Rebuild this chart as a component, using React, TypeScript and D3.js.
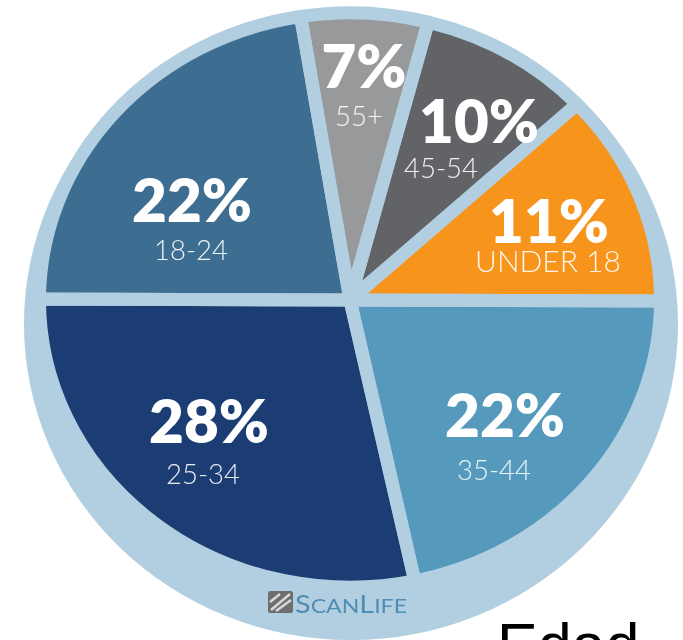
import React from "react";
import * as d3 from "d3";

const ageGroups = ["UNDER 18", "35-44", "25-34", "18-24", "55+", "45-54"];
const shareLabels = ["11%", "22%", "28%", "22%", "7%", "10%"];
// Slice sizes as they are drawn in the picture (its wedges differ a little from the printed percentages).
const drawnShares = [12, 21.6, 28.4, 22.4, 6.6, 9];
const sliceColors = ["#f7941e", "#5499bd", "#1c3d73", "#3d6d90", "#98999b", "#626366"];

// label anchor points: [x, percent baseline, age x, age baseline]
const labelPlacement = [
  [549, 243, 548, 272],
  [505, 437, 494, 480],
  [209, 443, 203, 484],
  [192, 222, 191, 260],
  [364, 88, 359, 126],
  [479, 143, 441, 178],
];

const W = 683;
const H = 640;
const PIE_X = 350;
const PIE_Y = 300;
const GAP = 13;
const R = 304 + GAP / 2;
const Y_SCALE = 0.925;
const DISK = "#b2cfe2";

export default function App() {
  const pie = d3
    .pie<number>()
    .sort(null)
    .startAngle((47 * Math.PI) / 180)
    .endAngle((407 * Math.PI) / 180);
  const arcs = pie(drawnShares);
  const arc = d3.arc<d3.PieArcDatum<number>>().innerRadius(0).outerRadius(R);

  return (
    <svg
      width={W}
      height={H}
      viewBox={`0 0 ${W} ${H}`}
      style={{ position: "absolute", left: 0, top: 0, display: "block", background: "#fff" }}
    >
      <defs>
        <filter id="soft" x="-5%" y="-5%" width="110%" height="110%">
          <feGaussianBlur stdDeviation="0.7" />
        </filter>
      </defs>
      <g filter="url(#soft)">
        <ellipse cx={351} cy={324} rx={327} ry={316} fill={DISK} />
        <g transform={`translate(${PIE_X},${PIE_Y}) scale(1,${Y_SCALE})`}>
          {arcs.map((a, i) => (
            <path key={ageGroups[i]} d={arc(a) ?? ""} fill={sliceColors[i]} />
          ))}
          {arcs.map((a, i) => (
            <path
              key={ageGroups[i]}
              d={arc(a) ?? ""}
              fill="none"
              stroke={DISK}
              strokeWidth={GAP}
              strokeLinejoin="round"
              vectorEffect="non-scaling-stroke"
            />
          ))}
        </g>
        {ageGroups.map((g, i) => {
          const [px, py, ax, ay] = labelPlacement[i];
          return (
            <g key={g} textAnchor="middle" fontFamily="Lato" fill="#fff">
              <text x={px} y={py} fontSize={60} fontWeight={800}>
                {shareLabels[i]}
              </text>
              <text x={ax} y={ay} fontSize={g.length > 5 ? 30 : 27.5} fontWeight={300} fillOpacity={0.9}>
                {g}
              </text>
            </g>
          );
        })}
        <rect x={268} y={591} width={25} height={22} rx={2} fill="#6d6e70" />
        <path d="M271 610 L290 594 M276 611 L291 600 M270 602 L280 594" stroke="#d8d8d8" strokeWidth={2.5} />
        <text x={295} y={613} fontFamily="Lato" fontSize={25} fill="#4f8db3" textLength={112} lengthAdjust="spacingAndGlyphs">
          S<tspan fontSize={20}>CAN</tspan>L<tspan fontSize={20}>IFE</tspan>
        </text>
      </g>
      <text x={497} y={666} fontFamily="Liberation Sans" fontSize={61} fill="#000">
        Edad
      </text>
    </svg>
  );
}
